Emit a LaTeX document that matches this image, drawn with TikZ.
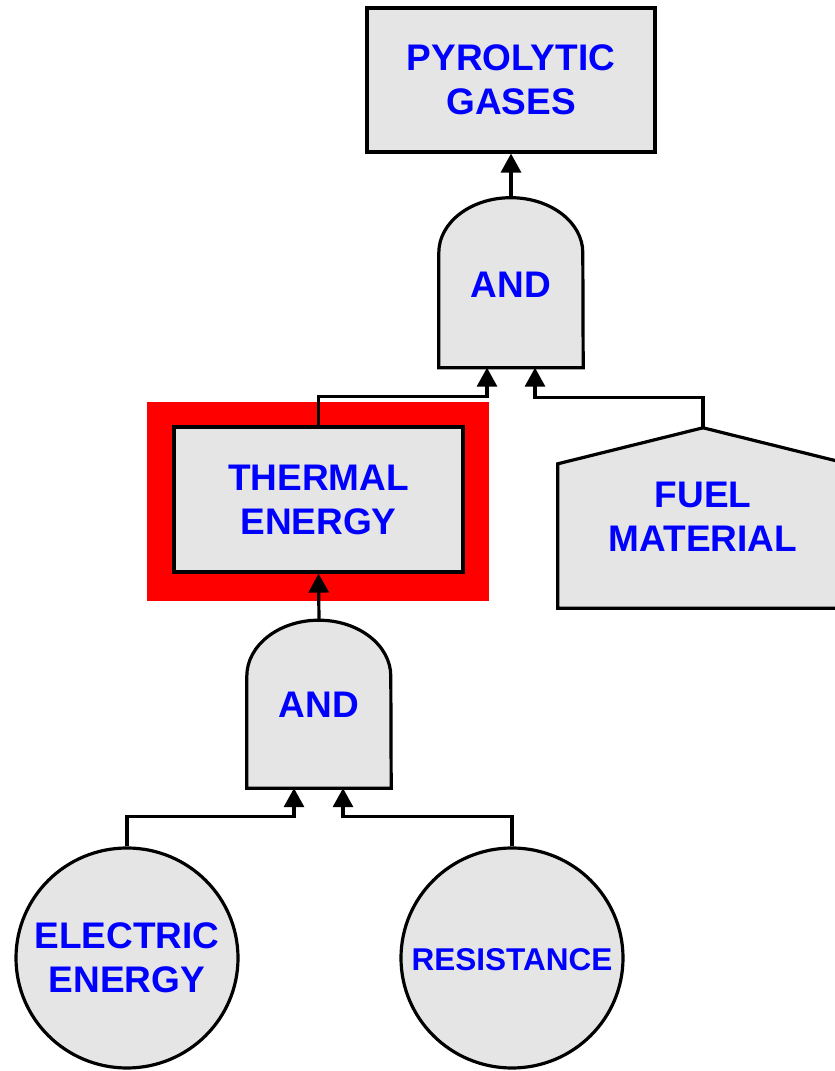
\documentclass[tikz,border=0pt]{standalone}
\usepackage{fontspec}
\setmainfont{Liberation Sans}
\usetikzlibrary{arrows.meta,backgrounds,shapes.geometric}
\definecolor{boxgray}{RGB}{229,229,229}
\definecolor{txtblue}{RGB}{0,0,255}
\tikzset{
  lbl/.style={font=\bfseries\fontsize{37}{44}\selectfont, text=txtblue, align=center, inner sep=0pt},
  rectbox/.style={lbl, draw=black, fill=boxgray, line width=3.2pt},
  shapeline/.style={draw=black, fill=boxgray, line width=3.2pt, line join=miter},
  evt/.style={draw=black, fill=boxgray, line width=3.2pt, ellipse, minimum width=222pt, minimum height=220pt, inner sep=0pt},
  conn/.style={draw=black, line width=3.2pt, -{Triangle[width=20pt,length=19pt]}}
}
\begin{document}
\begin{tikzpicture}[x=1pt,y=1pt]
\useasboundingbox (0,0) rectangle (835,1071);
\clip (0,0) rectangle (835,1071);
% top event
\node[rectbox, minimum width=288pt, minimum height=144pt] (pg) at (511,991) {PYROLYTIC\\GASES};
% AND gate 1
\node[lbl, minimum width=144pt, minimum height=170pt] (g1) at (511,788.5) {};
\path[shapeline] (g1.south west) -- ++(0,115) arc[start angle=180, end angle=0, x radius=72, y radius=55] -- (g1.south east) -- cycle;
\node[lbl] (g1t) at ([yshift=-2pt]g1.center) {AND};
% thermal energy (highlighted)
\node[rectbox, minimum width=289pt, minimum height=145pt] (th) at (318.5,571.5) {THERMAL\\ENERGY};
\begin{scope}[on background layer]
  \fill[red] ([shift={(-25pt,-27pt)}]th.south west) rectangle ([shift={(24pt,23pt)}]th.north east);
\end{scope}
% fuel material (house)
\node[lbl, minimum width=290pt, minimum height=180pt] (fm) at (703,553) {};
\path[shapeline] (fm.south west) -- ([yshift=-36pt]fm.north west) -- (fm.north) -- ([yshift=-36pt]fm.north east) -- (fm.south east) -- cycle;
\node[lbl] (fmt) at ([yshift=1pt]fm.center) {FUEL\\MATERIAL};
% AND gate 2
\node[lbl, minimum width=144pt, minimum height=168pt] (g2) at (319,367) {};
\path[shapeline] (g2.south west) -- ++(0,112) arc[start angle=180, end angle=0, x radius=72, y radius=56] -- (g2.south east) -- cycle;
\node[lbl] (g2t) at ([yshift=-1pt]g2.center) {AND};
% basic events
\node[evt] (ee) at (127,113) {};
\node[lbl] (eet) at ([yshift=0pt]ee.center) {ELECTRIC\\ENERGY};
\node[evt] (rs) at (512,113) {};
\node[lbl, font=\bfseries\fontsize{31.5}{38}\selectfont] (rst) at ([yshift=-2pt]rs.center) {RESISTANCE};
% connectors
\draw[conn] (g1.north) -- (pg.south);
\draw[conn] (th.north) -- ++(0,29) -| ([xshift=-24pt]g1.south);
\draw[conn] (fm.north) -- ++(0,30) -| ([xshift=24pt]g1.south);
\draw[conn] (g2.north) -- (th.south);
\draw[conn] (ee.north) -- ++(0,30) -| ([xshift=-25pt]g2.south);
\draw[conn] (rs.north) -- ++(0,30) -| ([xshift=24pt]g2.south);
\end{tikzpicture}
\end{document}
